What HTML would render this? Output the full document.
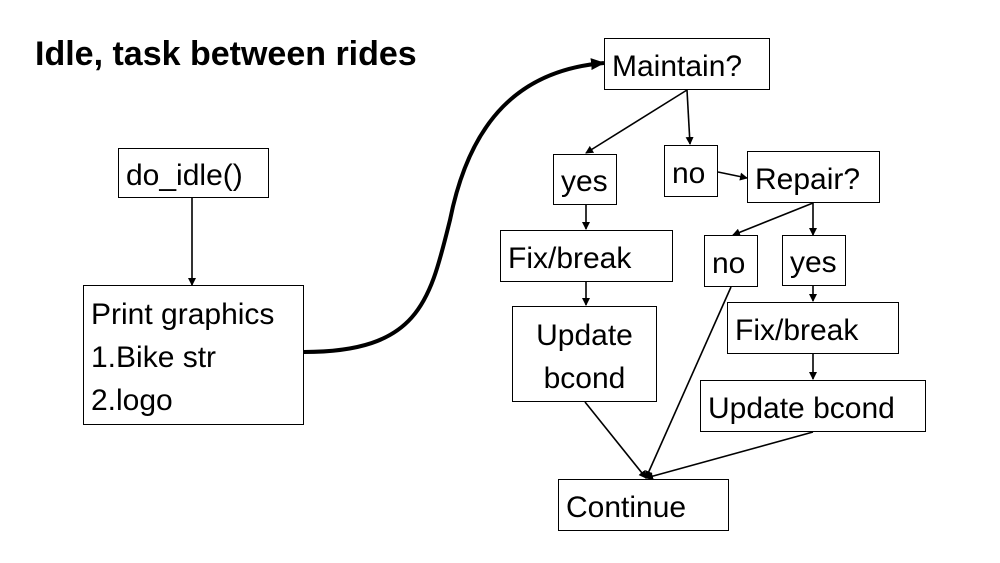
<!DOCTYPE html>
<html><head><style>
body{margin:0;width:1000px;height:563px;background:#fff;position:relative;overflow:hidden;font-family:"Liberation Sans",sans-serif;}
.b{position:absolute;border:1.5px solid #000;box-sizing:border-box;font-size:30px;line-height:36px;padding-left:7px;padding-top:5px;white-space:nowrap;background:#fff;display:flex;align-items:center;}
svg{position:absolute;left:0;top:0;}
</style></head><body>
<svg width="1000" height="563">
<defs><marker id="a" markerWidth="8" markerHeight="8" refX="7" refY="4" orient="auto" markerUnits="userSpaceOnUse"><path d="M0,0L8,4L0,8z"/></marker>
<marker id="A" markerWidth="14" markerHeight="12" refX="13" refY="6" orient="auto" markerUnits="userSpaceOnUse"><path d="M0,0L14,6L0,12z"/></marker></defs>
<g stroke="#000" stroke-width="1.6" fill="none" marker-end="url(#a)">
<line x1="192" y1="198" x2="192" y2="285"/>
<line x1="687" y1="90" x2="586" y2="153"/>
<line x1="687" y1="90" x2="690" y2="144"/>
<line x1="718" y1="172" x2="747" y2="178"/>
<line x1="813" y1="203" x2="733" y2="235"/>
<line x1="813" y1="203" x2="813" y2="235"/>
<line x1="586" y1="205" x2="586" y2="229"/>
<line x1="586" y1="282" x2="586" y2="305"/>
<line x1="813" y1="286" x2="813" y2="301"/>
<line x1="813" y1="354" x2="813" y2="379"/>
<line x1="731" y1="287" x2="646" y2="478"/>
<line x1="585" y1="402" x2="646" y2="478"/>
<line x1="813" y1="432" x2="646" y2="478"/>
</g>
<path d="M304,352 C420,352 430,300 450,220 C470,120 520,70 604,63" stroke="#000" stroke-width="4" fill="none" marker-end="url(#A)"/>
</svg>
<div style="position:absolute;left:35px;top:34px;font-size:34px;line-height:40px;font-weight:bold;">Idle, task between rides</div>
<div class="b" style="left:118px;top:148px;width:151px;height:50px;">do_idle()</div>
<div class="b" style="left:83px;top:285px;width:221px;height:140px;line-height:43px;">Print graphics<br>1.Bike str<br>2.logo</div>
<div class="b" style="left:604px;top:38px;width:166px;height:52px;">Maintain?</div>
<div class="b" style="left:553px;top:154px;width:64px;height:51px;">yes</div>
<div class="b" style="left:664px;top:145px;width:54px;height:52px;">no</div>
<div class="b" style="left:747px;top:151px;width:133px;height:52px;">Repair?</div>
<div class="b" style="left:500px;top:230px;width:173px;height:52px;">Fix/break</div>
<div class="b" style="left:704px;top:235px;width:54px;height:52px;">no</div>
<div class="b" style="left:782px;top:235px;width:64px;height:51px;">yes</div>
<div class="b" style="left:512px;top:306px;width:145px;height:96px;padding-left:0;justify-content:center;text-align:center;line-height:43px;">Update<br>bcond</div>
<div class="b" style="left:727px;top:302px;width:172px;height:52px;">Fix/break</div>
<div class="b" style="left:700px;top:380px;width:226px;height:52px;">Update bcond</div>
<div class="b" style="left:558px;top:479px;width:171px;height:52px;">Continue</div>
</body></html>
